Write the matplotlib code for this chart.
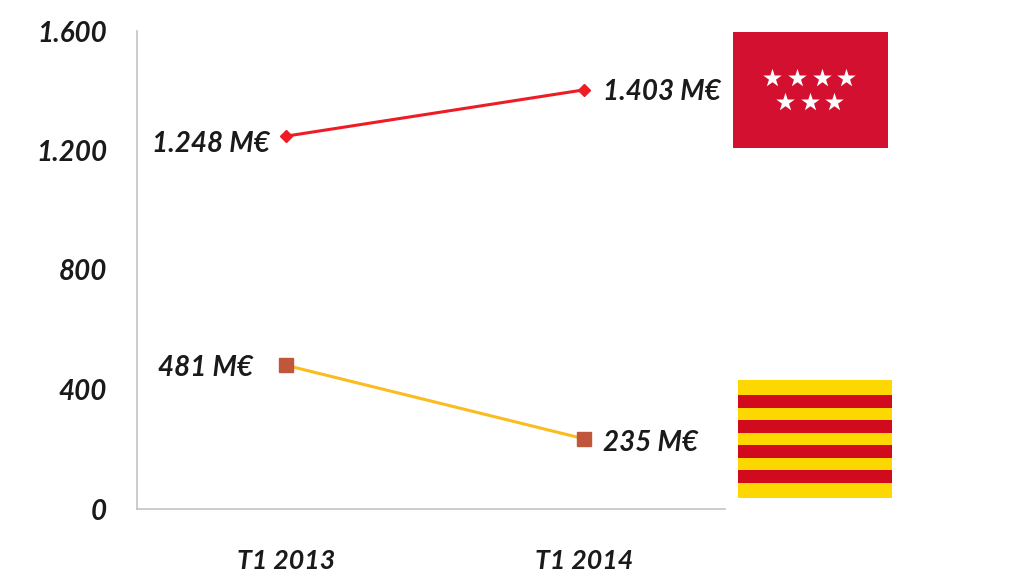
import matplotlib
matplotlib.use('Agg')
import matplotlib.pyplot as plt

plt.rcParams['font.family'] = ['Lato', 'DejaVu Sans']

W, H = 1024, 576

periods = ['T1 2013', 'T1 2014']
madrid = [1248, 1403]
cataluna = [481, 235]
madrid_labels = ['1.248 M€', '1.403 M€']
cataluna_labels = ['481 M€', '235 M€']
yticks = [0, 400, 800, 1200, 1600]
ytick_labels = ['0', '400', '800', '1.200', '1.600']

fig = plt.figure(figsize=(W / 100, H / 100), dpi=100)


def box(x0, y0, x1, y1):
    # pixel box (top-left origin) to figure fraction
    return [x0 / W, 1 - y1 / H, (x1 - x0) / W, (y1 - y0) / H]


ax = fig.add_axes(box(137, 31, 725, 509))
x = range(len(periods))
ax.plot(x, madrid, color='#ee1c25', lw=2.2, marker='D', ms=6, mfc='#ee1c25', mec='#ee1c25', clip_on=False)
ax.plot(x, cataluna, color='#fbbc1e', lw=2.2, marker='s', ms=9.5, mfc='#c0563c', mec='#c0563c', clip_on=False)

ax.set_xlim(-0.5, 1.473)
ax.set_ylim(0, 1600)
ax.set_xticks(list(x), periods)
ax.set_yticks(yticks, ytick_labels)
ax.tick_params(length=0)
ax.tick_params(axis='x', pad=28.5)
ax.tick_params(axis='y', pad=21.5)
for lab in ax.get_yticklabels():
    lab.set_fontsize(20)
for lab in ax.get_xticklabels():
    lab.set_fontsize(19.3)
for lab in ax.get_xticklabels() + ax.get_yticklabels():
    lab.set_fontweight('bold')
    lab.set_fontstyle('italic')
    lab.set_color('#1a1a1a')
for s in ['top', 'right']:
    ax.spines[s].set_visible(False)
for s in ['left', 'bottom']:
    ax.spines[s].set_color('#c4c4c4')
    ax.spines[s].set_linewidth(1.2)

style = dict(fontsize=20, fontweight='bold', fontstyle='italic', color='#1a1a1a', va='center')
ax.annotate(madrid_labels[0], (0, madrid[0]), xytext=(-16, -8), textcoords='offset pixels', ha='right', **style)
ax.annotate(madrid_labels[1], (1, madrid[1]), xytext=(19, -2), textcoords='offset pixels', ha='left', **style)
ax.annotate(cataluna_labels[0], (0, cataluna[0]), xytext=(-33, -3), textcoords='offset pixels', ha='right', **style)
ax.annotate(cataluna_labels[1], (1, cataluna[1]), xytext=(19, -4), textcoords='offset pixels', ha='left', **style)

# flag of Madrid
fm = fig.add_axes(box(733, 32, 888, 148))
fm.set_xlim(733, 888)
fm.set_ylim(148, 32)
fm.set_facecolor('#d3102f')
fm.set_xticks([])
fm.set_yticks([])
for s in fm.spines.values():
    s.set_visible(False)
star_x = [772, 797, 822, 846, 785, 810, 834]
star_y = [78, 78, 78, 78, 102, 102, 102]
fm.scatter(star_x, star_y, marker='*', s=195, color='white', linewidths=0)

# flag of Catalonia
fc = fig.add_axes(box(738, 380, 892, 498))
fc.set_xlim(738, 892)
fc.set_ylim(498, 380)
fc.set_facecolor('#fdd800')
fc.set_xticks([])
fc.set_yticks([])
for s in fc.spines.values():
    s.set_visible(False)
for y0, y1 in [(395, 408), (420, 433), (445, 458), (470, 483)]:
    fc.axhspan(y0, y1, color='#d20a1e', lw=0)

fig.savefig('out.png', dpi=100)
